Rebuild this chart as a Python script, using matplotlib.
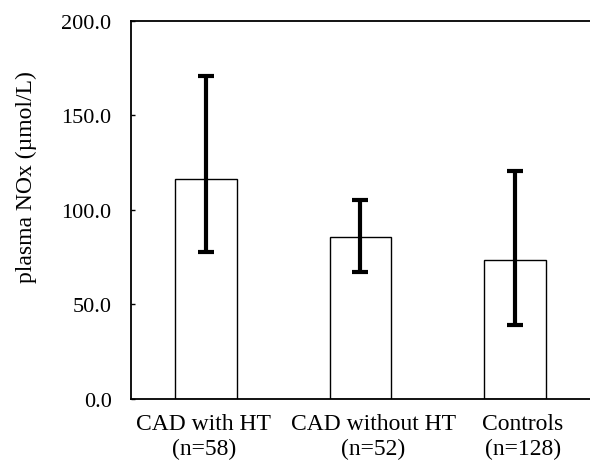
import matplotlib
matplotlib.use('Agg')
import matplotlib.pyplot as plt
import matplotlib.transforms as mtransforms
import numpy as np

plt.rcParams['font.family'] = ['Liberation Serif', 'DejaVu Serif']

groups = ['CAD with HT\n(n=58)', 'CAD without HT\n(n=52)', 'Controls\n(n=128)']
means = [116.3, 85.8, 73.5]
err_low = [77.7, 67.0, 39.2]
err_high = [171.0, 105.3, 120.5]

label_size = 17
tick_size = 16
# small horizontal nudges (px) of the category labels, as in the original
label_shift = [-2, 13, 8]

fig = plt.figure(figsize=(5.9, 4.64), dpi=100)
ax = fig.add_axes([0.222, 0.138, 0.778, 0.8146])

x = np.arange(len(groups))
yerr = [np.array(means) - np.array(err_low), np.array(err_high) - np.array(means)]
ax.bar(x, means, width=0.4, color='white', edgecolor='black', linewidth=1.0)
ax.errorbar(x, means, yerr=yerr, fmt='none', ecolor='black',
            elinewidth=3, capsize=6, capthick=3)

ax.set_xlim(-0.485, 2.485)
ax.set_ylim(0, 200)
ax.set_yticks([0, 50, 100, 150, 200])
ax.set_yticklabels(['%.1f' % v for v in [0, 50, 100, 150, 200]], fontsize=tick_size)
ax.set_xticks(x)
ax.set_xticklabels(groups, fontsize=label_size, linespacing=1.25)
ax.tick_params(axis='x', length=0, pad=10)
ax.tick_params(axis='y', direction='in', length=3, width=1, pad=14)

for lab, dx in zip(ax.get_xticklabels(), label_shift):
    off = mtransforms.ScaledTranslation(dx / 100.0, 0, fig.dpi_scale_trans)
    lab.set_transform(lab.get_transform() + off)

ax.spines['right'].set_visible(False)
for s in ['left', 'top', 'bottom']:
    ax.spines[s].set_linewidth(1.3)

ax.set_ylabel('plasma NOx (\u00b5mol/L)', fontsize=label_size)
ax.yaxis.set_label_coords(-0.205, 0.59)

fig.savefig('out.png', dpi=100)
